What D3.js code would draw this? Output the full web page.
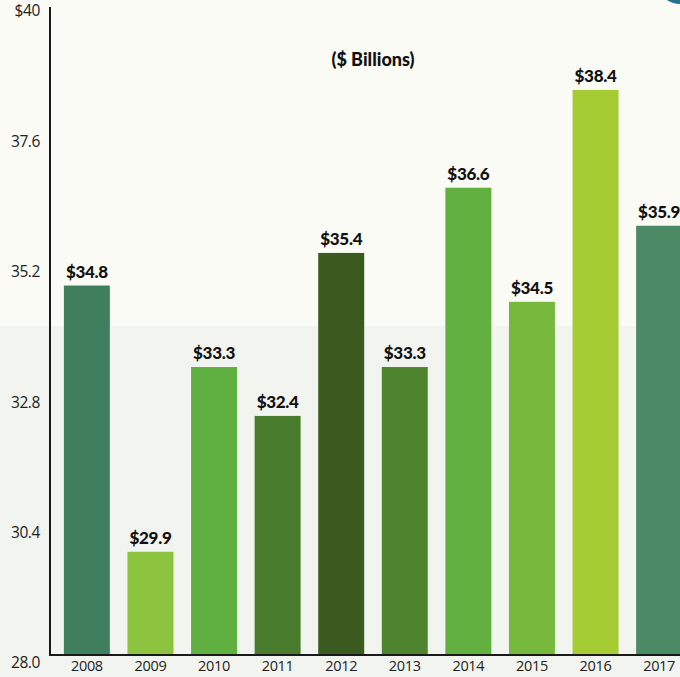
<!DOCTYPE html>
<html>
<head>
<meta charset="utf-8">
<script src="https://cdn.jsdelivr.net/npm/d3@7"></script>
<style>
  html, body { margin: 0; padding: 0; background: #f9fbf4; }
  svg { display: block; }
</style>
</head>
<body>
<svg id="chart" width="680" height="677"></svg>
<script>
const years = ["2008","2009","2010","2011","2012","2013","2014","2015","2016","2017"];
const values = [34.8, 29.9, 33.3, 32.4, 35.4, 33.3, 36.6, 34.5, 38.4, 35.9];
const valueLabels = ["$34.8","$29.9","$33.3","$32.4","$35.4","$33.3","$36.6","$34.5","$38.4","$35.9"];
const barColors = ["#3f7f5e","#8cc43f","#5fb040","#4a7c2e","#3a5a20","#4f842f","#62b040","#76b93c","#a5cc33","#4a8a64"];
const tickValues = [28.0, 30.4, 32.8, 35.2, 37.6, 40];
const tickLabels = ["28.0","30.4","32.8","35.2","37.6","$40"];
const unitsLabel = "($ Billions)";

const svg = d3.select("#chart");
const W = 680, H = 677;

// background (scan tone: slightly greyer lower half)
svg.append("rect").attr("x",0).attr("y",0).attr("width",W).attr("height",H).attr("fill","#f9fbf4");
svg.append("rect").attr("x",0).attr("y",326).attr("width",W).attr("height",H-326).attr("fill","#f2f4ef");

const axisX = 50, baseY = 655;
const y = d3.scaleLinear().domain([28, 40]).range([baseY, 3]);
const x = d3.scaleBand().domain(years).range([48, 698]).paddingInner(0.277).paddingOuter(0.25);

// bars
svg.append("g").selectAll("rect").data(values).join("rect")
  .attr("x", (d,i) => x(years[i]))
  .attr("width", x.bandwidth())
  .attr("y", d => y(d))
  .attr("height", d => baseY - y(d))
  .attr("fill", (d,i) => barColors[i]);

// value labels
svg.append("g").selectAll("text").data(values).join("text")
  .attr("x", (d,i) => x(years[i]) + x.bandwidth()/2)
  .attr("y", d => y(d) - 8)
  .attr("text-anchor","middle")
  .attr("font-family","Lato, 'Open Sans', sans-serif")
  .attr("font-weight", 900)
  .attr("font-size", 17)
  .attr("letter-spacing", -0.3)
  .attr("fill","#111")
  .text((d,i) => valueLabels[i]);

// y axis
const yAxis = d3.axisLeft(y).tickValues(tickValues).tickSize(0).tickPadding(10)
  .tickFormat((d,i) => tickLabels[i]);
const gy = svg.append("g").attr("transform", `translate(${axisX},0)`).call(yAxis);
gy.select(".domain").remove();
gy.selectAll("text")
  .attr("dy", "0.32em")
  .attr("transform", "translate(0,8)")
  .attr("font-family","'Open Sans', 'Noto Sans', sans-serif")
  .attr("font-weight", 400)
  .attr("font-size", 15.5)
  .attr("letter-spacing", -0.4)
  .attr("fill","#222");

// axis lines
svg.append("line").attr("x1",axisX).attr("x2",axisX).attr("y1",7).attr("y2",baseY+1)
  .attr("stroke","#1a1a1a").attr("stroke-width",2);
svg.append("line").attr("x1",axisX-1).attr("x2",W).attr("y1",baseY).attr("y2",baseY)
  .attr("stroke","#1a1a1a").attr("stroke-width",2);

// x labels
const xAxis = d3.axisBottom(x).tickSize(0).tickPadding(6);
const gx = svg.append("g").attr("transform", `translate(0,${baseY})`).call(xAxis);
gx.select(".domain").remove();
gx.selectAll("text")
  .attr("font-family","'Open Sans', 'Noto Sans', sans-serif")
  .attr("font-weight", 400)
  .attr("font-size", 14.5)
  .attr("letter-spacing", -0.3)
  .attr("fill","#222");

// units label
svg.append("text")
  .attr("x", 373).attr("y", 66)
  .attr("text-anchor","middle")
  .attr("font-family","Lato, 'Open Sans', sans-serif")
  .attr("font-weight", 900)
  .attr("font-size", 18)
  .attr("fill","#111")
  .text(unitsLabel);

// partial logo arc at top right corner
svg.append("path")
  .attr("d", d3.arc()({innerRadius: 20, outerRadius: 24, startAngle: Math.PI*0.85, endAngle: Math.PI*1.35}))
  .attr("transform","translate(680,-20)")
  .attr("fill","#24708e");
</script>
</body>
</html>
